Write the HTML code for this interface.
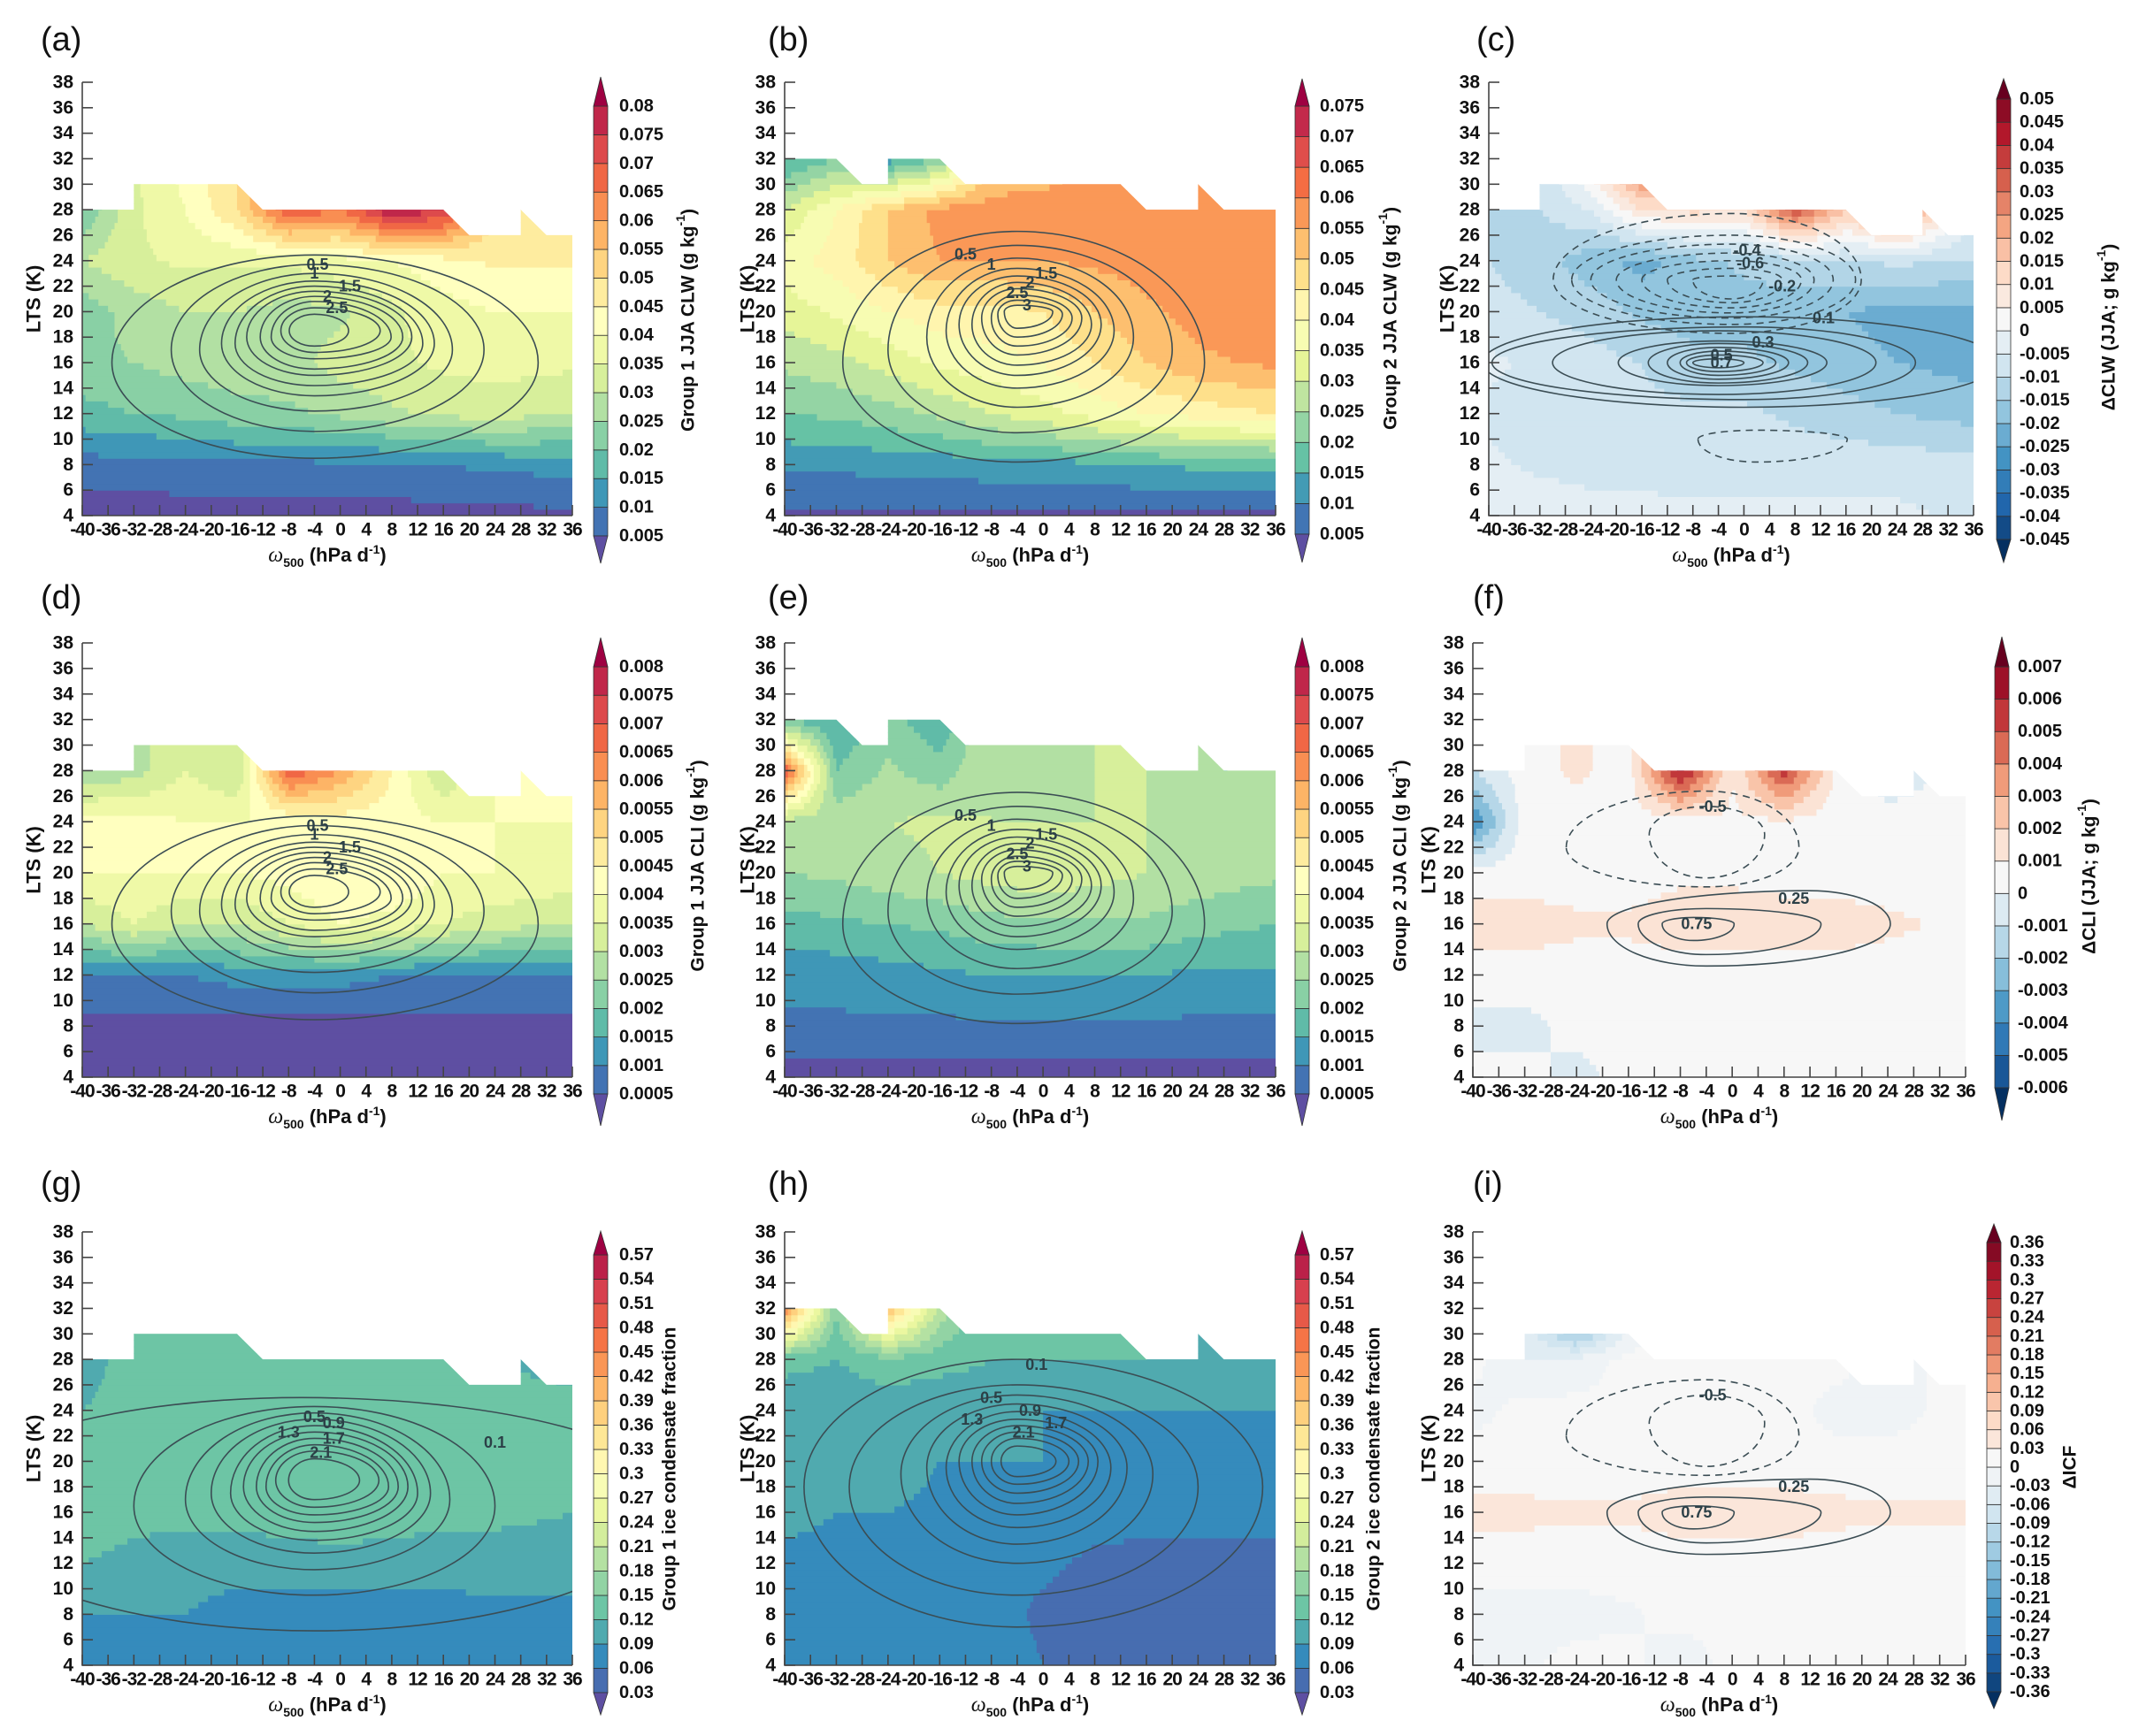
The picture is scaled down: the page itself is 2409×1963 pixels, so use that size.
<!DOCTYPE html>
<html><head><meta charset="utf-8"><title>LTS–omega composites</title>
<style>
html,body{margin:0;padding:0;background:#fff;}
svg{display:block;font-family:"Liberation Sans",Arial,sans-serif;}
</style></head>
<body>
<svg id="fig" xmlns="http://www.w3.org/2000/svg" width="2409" height="1963" viewBox="0 0 2409 1963">
<rect x="0" y="0" width="2409" height="1963" fill="#ffffff"/>
</svg>
<script>
// ---------- shared axes data ----------
const xNodes = [-40,-32,-24,-16,-8,0,8,16,24,36];
const yNodes = [4,8,12,16,20,24,28,32];
const xTickLabels = [-40,-36,-32,-28,-24,-20,-16,-12,-8,-4,0,4,8,12,16,20,24,28,32,36];
const yTickLabels = [4,6,8,10,12,14,16,18,20,22,24,26,28,30,32,34,36,38];

// boundaries of valid data (omega, LTS)
const g1BoundX = [-40,-32,-32,-16,-12,16,20,28,28,32,36];
const g1BoundY = [28,28,30,30,28,28,26,26,28,26,26];
const g2BoundX = [-40,-32,-28,-24,-24,-16,-12,12,16,24,24,28,36];
const g2BoundY = [32,32,30,30,32,32,30,30,28,28,30,28,28];

// ---------- field values (rows: LTS = 4,8,...,32 ; cols: xNodes) ----------
const aValues = [
[.002,.002,.003,.003,.003,.003,.003,.003,.003,.004],
[.008,.008,.008,.009,.009,.009,.009,.010,.011,.012],
[.018,.020,.021,.023,.024,.026,.029,.031,.032,.030],
[.024,.025,.027,.028,.028,.032,.034,.036,.037,.036],
[.022,.027,.030,.030,.028,.029,.034,.038,.040,.040],
[.030,.034,.036,.036,.036,.038,.040,.043,.046,.046],
[.020,.034,.040,.050,.070,.065,.080,.075,.050,.050],
[.020,.034,.042,.050,.070,.065,.080,.075,.050,.050]];
const bValues = [
[.004,.004,.004,.004,.004,.004,.004,.004,.004,.004],
[.011,.011,.012,.012,.013,.013,.014,.015,.016,.016],
[.020,.021,.023,.026,.030,.033,.037,.040,.042,.045],
[.026,.028,.032,.036,.038,.040,.045,.050,.054,.056],
[.032,.036,.040,.043,.043,.045,.050,.054,.057,.058],
[.038,.042,.050,.055,.055,.055,.056,.057,.057,.058],
[.030,.040,.050,.057,.057,.057,.058,.058,.057,.060],
[.014,.020,.012,.020,.050,.052,.055,.055,.057,.058]];
const cValues = [
[-.002,-.002,-.004,-.004,-.004,-.004,-.004,-.004,-.004,-.006],
[-.004,-.006,-.006,-.006,-.007,-.007,-.007,-.007,-.007,-.008],
[-.006,-.008,-.008,-.009,-.009,-.009,-.011,-.013,-.015,-.017],
[-.004,-.006,-.008,-.010,-.013,-.014,-.016,-.018,-.020,-.022],
[-.008,-.010,-.012,-.016,-.018,-.017,-.018,-.020,-.022,-.022],
[-.010,-.013,-.018,-.022,-.017,-.014,-.012,-.010,-.009,-.010],
[-.012,-.010,-.005,.010,.012,.010,.035,.015,.030,-.005],
[-.012,-.010,.010,.035,.030,.010,.035,.015,.030,-.005]];
const dValues = [
[.0003,.0003,.0003,.0003,.0003,.0003,.0003,.0003,.0003,.0003],
[.0003,.0003,.0003,.0003,.0003,.0003,.0003,.0003,.0003,.0003],
[.0010,.0010,.0010,.0012,.0012,.0012,.0010,.0010,.0010,.0010],
[.0030,.0035,.0030,.0030,.0035,.0040,.0038,.0035,.0032,.0030],
[.0040,.0040,.0040,.0040,.0042,.0045,.0045,.0040,.0040,.0038],
[.0042,.0042,.0040,.0040,.0040,.0042,.0042,.0040,.0040,.0040],
[.0025,.0028,.0035,.0030,.0070,.0060,.0045,.0030,.0040,.0040],
[.0025,.0028,.0035,.0030,.0070,.0060,.0045,.0030,.0040,.0040]];
const eValues = [
[.0002,.0002,.0002,.0002,.0002,.0002,.0002,.0002,.0002,.0002],
[.0009,.0009,.0009,.0009,.0009,.0009,.0009,.0009,.0009,.0009],
[.0012,.0012,.0013,.0014,.0015,.0015,.0015,.0015,.0014,.0014],
[.0018,.0019,.0020,.0021,.0023,.0024,.0024,.0024,.0022,.0020],
[.0025,.0026,.0028,.0030,.0032,.0034,.0032,.0030,.0028,.0026],
[.0028,.0028,.0030,.0031,.0030,.0030,.0030,.0030,.0028,.0026],
[.0070,.0020,.0026,.0022,.0030,.0026,.0030,.0030,.0025,.0025],
[.0020,.0015,.0022,.0016,.0030,.0026,.0030,.0030,.0025,.0025]];
const fValues = [
[.0003,.0003,-.0003,.0003,.0003,.0003,.0003,.0003,.0003,.0003],
[-.0003,-.0003,.0003,.0003,.0003,.0003,.0003,.0003,.0003,.0003],
[.0005,.0005,.0005,.0005,.0005,.0005,.0005,.0005,.0005,.0005],
[.0015,.0015,.0012,.0012,.0015,.0015,.0015,.0015,.0012,.0008],
[.0005,.0005,.0005,.0005,.0008,.0008,.0006,.0005,.0005,.0005],
[-.0040,.0005,.0005,.0005,.0005,.0008,.0008,.0005,.0003,.0003],
[-.0010,.0005,.0012,.0005,.0065,.0010,.0055,.0008,-.0005,.0003],
[-.0010,.0005,.0012,.0005,.0065,.0010,.0055,.0008,-.0005,.0003]];
const gValues = [
[.08,.08,.08,.08,.08,.09,.08,.08,.08,.08],
[.09,.09,.09,.08,.08,.08,.08,.08,.085,.085],
[.12,.11,.10,.10,.10,.10,.10,.10,.10,.10],
[.14,.13,.13,.13,.14,.15,.14,.13,.13,.12],
[.13,.13,.13,.13,.14,.15,.14,.13,.13,.13],
[.12,.13,.13,.13,.12,.13,.13,.12,.13,.13],
[.11,.13,.12,.13,.12,.12,.12,.12,.12,.11],
[.11,.13,.12,.13,.12,.12,.12,.12,.12,.11]];
const hValues = [
[.07,.07,.07,.07,.075,.06,.05,.045,.045,.045],
[.07,.07,.07,.07,.07,.055,.045,.045,.045,.045],
[.08,.08,.08,.08,.07,.065,.055,.05,.05,.05],
[.10,.09,.09,.085,.08,.075,.07,.07,.07,.07],
[.10,.10,.10,.09,.09,.09,.085,.085,.08,.08],
[.10,.10,.10,.10,.10,.09,.09,.09,.09,.09],
[.13,.12,.14,.13,.12,.12,.12,.12,.11,.11],
[.45,.15,.40,.20,.12,.12,.12,.12,.11,.11]];
const iValues = [
[-.01,-.005,.01,.01,-.02,.01,.01,.01,.01,.01],
[-.01,-.01,-.01,-.005,.01,.01,.01,.01,.01,.01],
[.01,.01,.01,.015,.02,.02,.015,.01,.01,.01],
[.04,.04,.035,.035,.04,.04,.045,.04,.035,.035],
[.015,.01,.01,.015,.02,.02,.015,.01,.01,.01],
[-.01,.01,.01,.01,.01,.01,.01,-.01,-.01,.01],
[.01,-.03,-.02,.01,.01,.01,.01,.01,-.01,.01],
[.01,-.05,-.25,-.05,.01,.01,.01,.01,-.01,.01]];

// ---------- colour-bar levels ----------
const aLevels = [0.005,0.01,0.015,0.02,0.025,0.03,0.035,0.04,0.045,0.05,0.055,0.06,0.065,0.07,0.075,0.08];
const bLevels = [0.005,0.01,0.015,0.02,0.025,0.03,0.035,0.04,0.045,0.05,0.055,0.06,0.065,0.07,0.075];
const cLevels = [-0.045,-0.04,-0.035,-0.03,-0.025,-0.02,-0.015,-0.01,-0.005,0,0.005,0.01,0.015,0.02,0.025,0.03,0.035,0.04,0.045,0.05];
const dLevels = [0.0005,0.001,0.0015,0.002,0.0025,0.003,0.0035,0.004,0.0045,0.005,0.0055,0.006,0.0065,0.007,0.0075,0.008];
const fLevels = [-0.006,-0.005,-0.004,-0.003,-0.002,-0.001,0,0.001,0.002,0.003,0.004,0.005,0.006,0.007];
const gLevels = [0.03,0.06,0.09,0.12,0.15,0.18,0.21,0.24,0.27,0.3,0.33,0.36,0.39,0.42,0.45,0.48,0.51,0.54,0.57];
const iLevels = [-0.36,-0.33,-0.3,-0.27,-0.24,-0.21,-0.18,-0.15,-0.12,-0.09,-0.06,-0.03,0,0.03,0.06,0.09,0.12,0.15,0.18,0.21,0.24,0.27,0.3,0.33,0.36];

// ---------- contour data: [left, right, top, bottom, midLTS, topOmega, bottomOmega, dashed] ----------
const g1Contours = [
[-35.4,30.7,24.45,8.5,16,-4,-4,0],[-26.2,22.3,23.7,10.6,17,-4,-4,0],[-21.8,17.4,23.0,12.2,17,-4,-4,0],
[-18.4,14.6,22.4,13.4,17.5,-4,-4,0],[-16.3,12.8,22.0,14.2,17.5,-4,-4,0],[-14.5,11.1,21.6,15.0,18,-4,-4,0],
[-12.4,9.7,21.2,15.5,18,-4,-4,0],[-10.7,7.9,20.8,16.3,18,-4,-4,0],[-9.2,6.2,20.3,16.8,18.5,-4,-4,0],[-7.9,1.3,19.8,17.3,18.5,-4,-4,0]];
const g1LabelText = ["0.5","1","1.5","2","2.5"];
const g1LabelX = [-3.5,-4,1.5,-2,-0.5];
const g1LabelY = [23.7,23.0,22.0,21.2,20.3];

const g2Contours = [
[-31,25,26.3,8.2,16,-4,-4,0],[-24,20,25.2,10.5,17,-4,-4,0],[-18,14,24.2,12.5,18,-4,-4,0],
[-15,11,23.4,14,18.5,-4,-4,0],[-13,9,22.8,15,19,-4,-4,0],[-11,7.5,22.3,15.8,19,-4,-4,0],
[-9.5,6,21.8,16.6,19.5,-4,-4,0],[-8,4.5,21.3,17.3,19.5,-4,-4,0],[-7,3,20.9,18,19.8,-4,-4,0],[-6,1.5,20.5,18.7,20,-4,-4,0]];
const g2LabelText = ["0.5","1","1.5","2","2.5","3"];
const g2LabelX = [-12,-8,0.5,-2,-4,-2.5];
const g2LabelY = [24.5,23.7,23.0,22.3,21.5,20.5];

const cContours = [
[-29.9,18.4,27.7,18.3,22.5,-2,-2,1],[-27,17.5,26,19,22.5,-2,-2,1],[-24,14,25.3,19.5,22.5,-2,-2,1],
[-20,11,24.6,19.9,22.5,-2,-2,1],[-16,9,24,20.3,22.5,-2,-2,1],[-12,6,23.4,20.7,22.5,-2,-2,1],[-8,3,22.8,21,22.5,-2,-2,1],
[-41,40,19.6,12.5,16,0,0,0],[-39.5,26.9,18.8,13.1,16,0,0,0],[-30,20.7,18.5,13.5,16,-4,-4,0],
[-19.7,13,17.7,14.2,16,-4,-4,0],[-15,10,17.5,14.4,16,-4,-4,0],[-12,7,17.2,14.7,16,-4,-4,0],
[-10,5,16.9,15,16,-4,-4,0],[-9,3,16.6,15.3,16,-4,-4,0],[-8,0,16.3,15.6,16,-4,-4,0],
[-7.2,16.2,10.7,8.2,10,2,2,1]];
const cLabelText = ["-0.4","-0.6","-0.2","0.1","0.3","0.5","0.7"];
const cLabelX = [0.5,1,6,12.5,3,-3.5,-3.5];
const cLabelY = [24.8,23.8,22,19.5,17.6,16.6,16];

const fiContours = [
[-25.6,10.3,26.4,18.9,22,-4,-4,1],[-12.8,5,25.2,19.6,23,-4,-4,1],
[-19.3,24.4,18.6,12.7,16,12,-4,0],[-14.5,13.7,17.2,13.6,16,-4,-4,0],[-10.8,0.3,16.5,14.7,16,-6,-6,0]];
const fiLabelText = ["-0.5","0.25","0.75"];
const fiLabelX = [-3,9.5,-5.5];
const fiLabelY = [25.2,18,16];

const gContours = [
[-60,52,25,6.7,17,-6,-4,0],[-32,24,24.3,9.5,16.5,-4,-4,0],[-24,17,23.8,11.5,17,-4,-4,0],
[-20,14,23.3,12.8,17.5,-4,-4,0],[-17,12,22.8,13.8,17.5,-4,-4,0],[-15,10.5,22.3,14.5,18,-4,-4,0],
[-13,9,21.8,15.2,18,-4,-4,0],[-11.5,7.5,21.3,15.8,18,-4,-4,0],[-10,6,20.8,16.4,18.5,-4,-4,0],[-8,3,20.2,17,18.5,-4,-4,0]];
const gLabelText = ["0.5","0.9","1.3","1.7","2.1","0.1"];
const gLabelX = [-4,-1,-8,-1,-3,24];
const gLabelY = [23.5,23,22.3,21.8,20.7,21.5];

const hContours = [
[-37,34,28,7,18,-4,-4,0],[-30,24,26,9.5,18,-4,-4,0],[-22,17,25.2,12,19,-4,-4,0],
[-18,13,24.5,13.5,19.5,-4,-4,0],[-15,10.5,23.9,14.8,19.5,-4,-4,0],[-13,8.5,23.3,15.8,20,-4,-4,0],
[-11,7,22.8,16.7,20,-4,-4,0],[-9.5,5.5,22.3,17.5,20,-4,-4,0],[-8,4,21.8,18.2,20,-4,-4,0],[-6.5,2,21.2,18.8,20,-4,-4,0]];
const hLabelText = ["0.1","0.5","0.9","1.3","1.7","2.1"];
const hLabelX = [-1,-8,-2,-11,2,-3];
const hLabelY = [27.6,25,24,23.3,23,22.3];

// ---------- colour maps ----------
const SPEC = ['#5e4fa2','#3288bd','#66c2a5','#abdda4','#e6f598','#ffffbf','#fee08b','#fdae61','#f46d43','#d53e4f','#9e0142'];
const RDBU = ['#053061','#2166ac','#4393c3','#92c5de','#d1e5f0','#f7f7f7','#fddbc7','#f4a582','#d6604d','#b2182b','#67001f'];

const NS = 'http://www.w3.org/2000/svg';
const svg = document.getElementById('fig');
function mk(tag, attrs, parent){
  const el = document.createElementNS(NS, tag);
  for (const k in attrs) el.setAttribute(k, attrs[k]);
  (parent||svg).appendChild(el);
  return el;
}
function hex2rgb(h){return [parseInt(h.slice(1,3),16),parseInt(h.slice(3,5),16),parseInt(h.slice(5,7),16)];}
function sampleMap(stops, t){
  const p = t*(stops.length-1); const i = Math.min(stops.length-2, Math.floor(p)); const f = p-i;
  const a = hex2rgb(stops[i]), b = hex2rgb(stops[i+1]);
  return 'rgb('+a.map((v,k)=>Math.round(v+(b[k]-v)*f)).join(',')+')';
}
function makeColors(stops, n){ const out=[]; for(let i=0;i<n;i++) out.push(sampleMap(stops, i/(n-1))); return out; }
function interp(vals, x, y){
  let i=0; while(i<xNodes.length-2 && x>xNodes[i+1]) i++;
  let j=0; while(j<yNodes.length-2 && y>yNodes[j+1]) j++;
  const fx=(x-xNodes[i])/(xNodes[i+1]-xNodes[i]), fy=(y-yNodes[j])/(yNodes[j+1]-yNodes[j]);
  const v00=vals[j][i], v10=vals[j][i+1], v01=vals[j+1][i], v11=vals[j+1][i+1];
  return (v00*(1-fx)+v10*fx)*(1-fy)+(v01*(1-fx)+v11*fx)*fy;
}
function levelIndex(levels, v){ let k=0; while(k<levels.length && v>=levels[k]) k++; return k; }

const panels = [
 {id:'a',vals:aValues,levels:aLevels,cmap:SPEC,bx:g1BoundX,by:g1BoundY,cont:g1Contours,lt:g1LabelText,lx:g1LabelX,ly:g1LabelY,
  px0:93,px1:647,py0:93,py1:583,cbx:671,cbTop:120,cbBot:606,tipT:87,tipB:637,lblX:700,
  title:'Group 1 JJA CLW (g kg<tspan dy="-9" font-size="14">-1</tspan><tspan dy="9">)</tspan>',titleX:778,titleY:362,letterX:46,letterY:57,ytX:38},
 {id:'b',vals:bValues,levels:bLevels,cmap:SPEC,bx:g2BoundX,by:g2BoundY,cont:g2Contours,lt:g2LabelText,lx:g2LabelX,ly:g2LabelY,
  px0:887,px1:1442,py0:93,py1:583,cbx:1464,cbTop:120,cbBot:604,tipT:89,tipB:636,lblX:1492,
  title:'Group 2 JJA CLW (g kg<tspan dy="-9" font-size="14">-1</tspan><tspan dy="9">)</tspan>',titleX:1572,titleY:360,letterX:868,letterY:57,ytX:845},
 {id:'c',vals:cValues,levels:cLevels,cmap:RDBU,bx:g1BoundX,by:g1BoundY,cont:cContours,lt:cLabelText,lx:cLabelX,ly:cLabelY,
  px0:1683,px1:2231,py0:93,py1:583,cbx:2257,cbTop:112,cbBot:610,tipT:89,tipB:636,lblX:2283,
  title:'ΔCLW (JJA; g kg<tspan dy="-9" font-size="14">-1</tspan><tspan dy="9">)</tspan>',titleX:2384,titleY:370,letterX:1669,letterY:57,ytX:1636},
 {id:'d',vals:dValues,levels:dLevels,cmap:SPEC,bx:g1BoundX,by:g1BoundY,cont:g1Contours,lt:g1LabelText,lx:g1LabelX,ly:g1LabelY,
  px0:93,px1:647,py0:727,py1:1218,cbx:671,cbTop:754,cbBot:1237,tipT:721,tipB:1273,lblX:700,
  title:'Group 1 JJA CLI (g kg<tspan dy="-9" font-size="14">-1</tspan><tspan dy="9">)</tspan>',titleX:789,titleY:979,letterX:46,letterY:688,ytX:38},
 {id:'e',vals:eValues,levels:dLevels,cmap:SPEC,bx:g2BoundX,by:g2BoundY,cont:g2Contours,lt:g2LabelText,lx:g2LabelX,ly:g2LabelY,
  px0:887,px1:1442,py0:727,py1:1218,cbx:1464,cbTop:754,cbBot:1237,tipT:721,tipB:1273,lblX:1492,
  title:'Group 2 JJA CLI (g kg<tspan dy="-9" font-size="14">-1</tspan><tspan dy="9">)</tspan>',titleX:1583,titleY:979,letterX:868,letterY:688,ytX:845},
 {id:'f',vals:fValues,levels:fLevels,cmap:RDBU,bx:g1BoundX,by:g1BoundY,cont:fiContours,lt:fiLabelText,lx:fiLabelX,ly:fiLabelY,
  px0:1665,px1:2222,py0:727,py1:1218,cbx:2255,cbTop:754,cbBot:1230,tipT:720,tipB:1267,lblX:2281,
  title:'ΔCLI (JJA; g kg<tspan dy="-9" font-size="14">-1</tspan><tspan dy="9">)</tspan>',titleX:2362,titleY:991,letterX:1665,letterY:688,ytX:1615},
 {id:'g',vals:gValues,levels:gLevels,cmap:SPEC,bx:g1BoundX,by:g1BoundY,cont:gContours,lt:gLabelText,lx:gLabelX,ly:gLabelY,
  px0:93,px1:647,py0:1393,py1:1883,cbx:671,cbTop:1419,cbBot:1914,tipT:1392,tipB:1939,lblX:700,
  title:'Group 1 ice condensate fraction',titleX:757,titleY:1661,letterX:46,letterY:1351,ytX:38},
 {id:'h',vals:hValues,levels:gLevels,cmap:SPEC,bx:g2BoundX,by:g2BoundY,cont:hContours,lt:hLabelText,lx:hLabelX,ly:hLabelY,
  px0:887,px1:1442,py0:1393,py1:1883,cbx:1464,cbTop:1419,cbBot:1914,tipT:1392,tipB:1939,lblX:1492,
  title:'Group 2 ice condensate fraction',titleX:1553,titleY:1661,letterX:868,letterY:1351,ytX:845},
 {id:'i',vals:iValues,levels:iLevels,cmap:RDBU,bx:g1BoundX,by:g1BoundY,cont:fiContours,lt:fiLabelText,lx:fiLabelX,ly:fiLabelY,
  px0:1665,px1:2222,py0:1393,py1:1883,cbx:2246,cbTop:1405,cbBot:1913,tipT:1384,tipB:1932,lblX:2272,
  title:'ΔICF',titleX:2340,titleY:1659,letterX:1665,letterY:1351,ytX:1615}
];

const defs = mk('defs', {});
panels.forEach(P => {
  const xs = v => P.px0 + (v+40)/76*(P.px1-P.px0);
  const ys = v => P.py1 - (v-4)/34*(P.py1-P.py0);
  const colors = makeColors(P.cmap, P.levels.length+1);
  if (P.cmap === RDBU) { const z = P.levels.indexOf(0); if (z >= 0) colors[z+1] = '#f7f7f7'; }
  const g = mk('g', {});
  
  

  const cp = mk('clipPath', {id:'clip-'+P.id}, defs);
  let pts = P.bx.map((x,k)=>xs(x).toFixed(1)+','+ys(P.by[k]).toFixed(1));
  pts.push(xs(36).toFixed(1)+','+ys(4).toFixed(1)); pts.push(xs(-40).toFixed(1)+','+ys(4).toFixed(1));
  mk('polygon', {points:pts.join(' ')}, cp);

  const field = mk('g', {'clip-path':'url(#clip-'+P.id+')'}, g);
  
  
  const dx=0.5, dy=0.5;
  for (let y=4; y<32; y+=dy){
    let runStart=-40, runIdx=null;
    for (let x=-40; x<=36; x+=dx){
      const idx = x<36 ? levelIndex(P.levels, interp(P.vals, x+dx/2, y+dy/2)) : -1;
      if (runIdx===null){runIdx=idx; runStart=x; continue;}
      if (idx!==runIdx){
        const r = mk('rect', {x:xs(runStart).toFixed(2), y:ys(y+dy).toFixed(2), width:(xs(x)-xs(runStart)+0.6).toFixed(2), height:(ys(y)-ys(y+dy)+0.6).toFixed(2), fill:colors[runIdx]}, field);
        
        
        runIdx=idx; runStart=x;
      }
    }
  }

  const cg = mk('g', {'clip-path':'url(#clip-'+P.id+')', fill:'none', stroke:'#3b4d54', 'stroke-width':'1.6'}, g);
  
  
  P.cont.forEach(c => {
    const [L,R,T,B,MY,TX,BX,dash] = c;
    const d = 'M'+xs(L)+','+ys(MY)+
      ' A'+(xs(TX)-xs(L))+','+(ys(MY)-ys(T))+' 0 0 1 '+xs(TX)+','+ys(T)+
      ' A'+(xs(R)-xs(TX))+','+(ys(MY)-ys(T))+' 0 0 1 '+xs(R)+','+ys(MY)+
      ' A'+(xs(R)-xs(BX))+','+(ys(B)-ys(MY))+' 0 0 1 '+xs(BX)+','+ys(B)+
      ' A'+(xs(BX)-xs(L))+','+(ys(B)-ys(MY))+' 0 0 1 '+xs(L)+','+ys(MY)+' Z';
    const p = mk('path', {d:d}, cg);
    if (dash) p.setAttribute('stroke-dasharray','8,6');
    
    
  });
  P.lt.forEach((t,k) => {
    const tx = mk('text', {x:xs(P.lx[k]), y:ys(P.ly[k]), 'font-size':'18', 'font-weight':'bold', fill:'#2c4047', 'text-anchor':'middle', 'dominant-baseline':'central'}, g);
    tx.textContent = t;
    
    
  });

  const ax = mk('g', {stroke:'#444', 'stroke-width':'1.6', fill:'none'}, g);
  
  
  mk('path', {d:'M'+P.px0+','+P.py0+' V'+P.py1+' H'+P.px1}, ax);
  yTickLabels.forEach(v => {
    mk('line', {x1:P.px0, x2:P.px0+12, y1:ys(v), y2:ys(v)}, ax);
    const t = mk('text', {x:P.px0-10, y:ys(v), 'font-size':'21', 'font-weight':'bold', 'text-anchor':'end', 'dominant-baseline':'central', fill:'#111'}, g);
    t.textContent = String(v);
    
    
  });
  xTickLabels.forEach(v => {
    mk('line', {x1:xs(v), x2:xs(v), y1:P.py1, y2:P.py1-12}, ax);
    const t = mk('text', {x:xs(v), y:P.py1+16, 'font-size':'21', 'font-weight':'bold', 'text-anchor':'middle', 'dominant-baseline':'central', 'letter-spacing':'-1', fill:'#111'}, g);
    t.textContent = String(v);
    
    
  });
  const yt = mk('text', {x:P.ytX, y:(P.py0+P.py1)/2, 'font-size':'22', 'font-weight':'bold', 'text-anchor':'middle', 'dominant-baseline':'central', transform:'rotate(-90 '+P.ytX+' '+((P.py0+P.py1)/2)+')', fill:'#111'}, g);
  yt.textContent = 'LTS (K)';
  
  
  const xt = mk('text', {x:(P.px0+P.px1)/2, y:P.py1+52, 'font-size':'22', 'font-weight':'bold', 'text-anchor':'middle', fill:'#111'}, g);
  xt.innerHTML = '<tspan font-family="Liberation Serif" font-style="italic" font-weight="normal" font-size="24">ω</tspan><tspan font-size="14" dy="6">500</tspan><tspan dy="-6"> (hPa d</tspan><tspan font-size="14" dy="-9">-1</tspan><tspan dy="9">)</tspan>';
  
  

  const lt = mk('text', {x:P.letterX, y:P.letterY, 'font-size':'38', fill:'#111'}, g);
  lt.textContent = '('+P.id+')';
  
  

  const cb = mk('g', {}, g);
  
  
  const n = P.levels.length, step = (P.cbBot-P.cbTop)/(n-1), w = 16;
  for (let i=0; i<n-1; i++){
    const r = mk('rect', {x:P.cbx, y:P.cbBot-(i+1)*step, width:w, height:step, fill:colors[i+1], stroke:'#333', 'stroke-width':'0.8'}, cb);
    
    
  }
  const tt = mk('polygon', {points:P.cbx+','+P.cbTop+' '+(P.cbx+w)+','+P.cbTop+' '+(P.cbx+w/2)+','+P.tipT, fill:colors[n], stroke:'#333','stroke-width':'0.8'}, cb);
  
  
  const tb = mk('polygon', {points:P.cbx+','+P.cbBot+' '+(P.cbx+w)+','+P.cbBot+' '+(P.cbx+w/2)+','+P.tipB, fill:colors[0], stroke:'#333','stroke-width':'0.8'}, cb);
  
  
  P.levels.forEach((v,i) => {
    const t = mk('text', {x:P.lblX, y:P.cbBot-i*step, 'font-size':'20', 'font-weight':'bold', 'dominant-baseline':'central', fill:'#111'}, cb);
    t.textContent = String(v);
    
    
  });
  const ct = mk('text', {x:P.titleX, y:P.titleY, 'font-size':'21', 'font-weight':'bold', 'text-anchor':'middle', 'dominant-baseline':'central', transform:'rotate(-90 '+P.titleX+' '+P.titleY+')', fill:'#111'}, cb);
  ct.innerHTML = P.title;
  
  
});
</script>
</body></html>
